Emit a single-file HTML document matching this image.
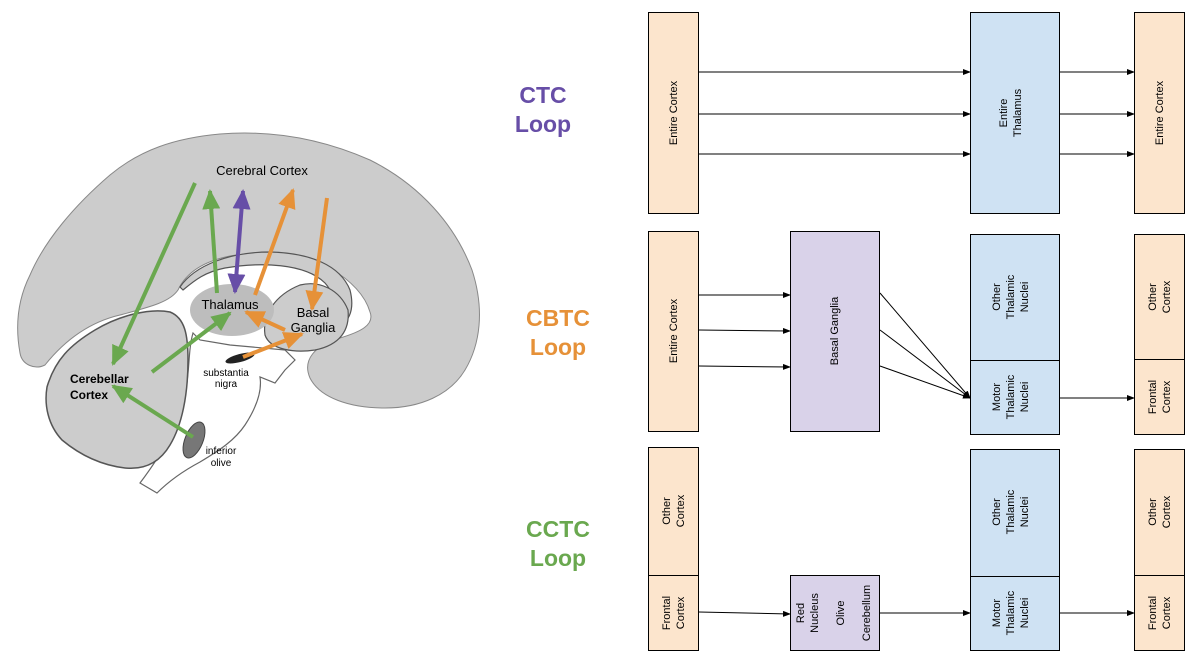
<!DOCTYPE html>
<html><head><meta charset="utf-8"><style>
html,body{margin:0;padding:0;background:#fff;}
svg{display:block;font-family:"Liberation Sans",Arial,sans-serif;}
</style></head><body>
<svg width="1199" height="662" viewBox="0 0 1199 662" xmlns="http://www.w3.org/2000/svg">
<defs>
<marker id="g" markerWidth="20" markerHeight="18" refX="18" refY="9" orient="auto" markerUnits="userSpaceOnUse"><path d="M0,0 L20,9 L0,18 Z" fill="#6aa84f"/></marker>
<marker id="o" markerWidth="20" markerHeight="18" refX="18" refY="9" orient="auto" markerUnits="userSpaceOnUse"><path d="M0,0 L20,9 L0,18 Z" fill="#e69138"/></marker>
<marker id="p" markerWidth="20" markerHeight="18" refX="18" refY="9" orient="auto" markerUnits="userSpaceOnUse"><path d="M0,0 L20,9 L0,18 Z" fill="#674ea7"/></marker>
<marker id="ps" markerWidth="20" markerHeight="18" refX="2" refY="9" orient="auto" markerUnits="userSpaceOnUse"><path d="M20,0 L0,9 L20,18 Z" fill="#674ea7"/></marker>
<marker id="k" markerWidth="8" markerHeight="6" refX="7" refY="3" orient="auto" markerUnits="userSpaceOnUse"><path d="M0,0 L8,3 L0,6 Z" fill="#000"/></marker>
</defs>

<path d="M20,353 C14,320 20,295 30,275 C45,240 75,205 110,175 C140,150 175,138 220,134 C270,130 320,138 370,160 C420,185 455,225 472,270 C485,310 480,345 465,370 C450,395 420,408 385,408 C350,408 320,398 310,378 C302,360 315,345 340,338 C360,332 375,325 370,312 C365,295 350,280 330,268 C305,255 265,250 230,256 C200,262 185,275 178,290 C170,302 150,307 120,315 C90,322 65,340 45,365 C35,370 22,365 20,353 Z" fill="#cccccc" stroke="#888" stroke-width="1"/>
<path d="M140,483 L157,493 C170,480 185,470 200,462 C220,450 235,440 245,425 C258,405 262,390 260,377 L275,383 L285,370 L295,360 L285,350 L230,345 L200,340 L193,333 C188,350 190,370 185,395 C180,420 165,450 140,483 Z" fill="#fff" stroke="#666" stroke-width="1.2"/>
<path d="M47,387 C55,360 70,345 95,330 C120,315 150,308 170,312 C185,318 188,335 188,360 C188,395 182,425 170,445 C160,462 145,470 125,468 C100,465 80,455 62,440 C48,425 44,405 47,387 Z" fill="#cccccc" stroke="#555" stroke-width="1.5"/>
<path d="M180,287 C195,265 230,252 270,252 C310,253 340,265 350,290 C355,310 350,325 330,330 L320,332 C335,320 340,300 325,283 C305,263 260,262 225,268 C205,272 195,280 183,290 Z" fill="#cccccc" stroke="#555" stroke-width="1.2"/>
<path d="M265,335 C262,315 275,295 300,285 C320,280 340,290 348,310 C350,330 340,345 315,350 C295,353 270,350 265,335 Z" fill="#cccccc" stroke="#555" stroke-width="1.2"/>
<ellipse cx="232" cy="310" rx="42" ry="26" fill="#bdbdbd"/>
<ellipse cx="240" cy="358" rx="15" ry="4" transform="rotate(-15 240 358)" fill="#222"/>
<ellipse cx="194" cy="440" rx="9" ry="19" transform="rotate(22 194 440)" fill="#777" stroke="#444"/>

<text x="262" y="175" font-size="13" text-anchor="middle">Cerebral Cortex</text>
<text x="230" y="309" font-size="13" text-anchor="middle">Thalamus</text>
<text x="313" y="317" font-size="13" text-anchor="middle">Basal</text>
<text x="313" y="332" font-size="13" text-anchor="middle">Ganglia</text>
<text x="70" y="383" font-size="12" font-weight="bold">Cerebellar</text>
<text x="70" y="399" font-size="12" font-weight="bold">Cortex</text>
<text x="226" y="376" font-size="10" text-anchor="middle">substantia</text>
<text x="226" y="387" font-size="10" text-anchor="middle">nigra</text>
<text x="221" y="454" font-size="10" text-anchor="middle">inferior</text>
<text x="221" y="466" font-size="10" text-anchor="middle">olive</text>

<g stroke-width="4" fill="none">
<line x1="195" y1="183" x2="113" y2="364" stroke="#6aa84f" marker-end="url(#g)"/>
<line x1="217" y1="293" x2="210" y2="191" stroke="#6aa84f" marker-end="url(#g)"/>
<line x1="235" y1="292" x2="243" y2="191" stroke="#674ea7" marker-end="url(#p)" marker-start="url(#ps)"/>
<line x1="255" y1="295" x2="293" y2="190" stroke="#e69138" marker-end="url(#o)"/>
<line x1="327" y1="198" x2="312" y2="309" stroke="#e69138" marker-end="url(#o)"/>
<line x1="285" y1="330" x2="246" y2="312" stroke="#e69138" marker-end="url(#o)"/>
<line x1="243" y1="357" x2="302" y2="334" stroke="#e69138" marker-end="url(#o)"/>
<line x1="152" y1="372" x2="230" y2="313" stroke="#6aa84f" marker-end="url(#g)"/>
<line x1="193" y1="437" x2="113" y2="386" stroke="#6aa84f" marker-end="url(#g)"/>
</g>

<g font-size="23" font-weight="bold" text-anchor="middle">
<text x="543" y="103" fill="#674ea7">CTC</text><text x="543" y="132" fill="#674ea7">Loop</text>
<text x="558" y="326" fill="#e69138">CBTC</text><text x="558" y="355" fill="#e69138">Loop</text>
<text x="558" y="537" fill="#6aa84f">CCTC</text><text x="558" y="566" fill="#6aa84f">Loop</text>
</g>

<g stroke="#000" stroke-width="1">
<rect x="648.5" y="12.5" width="50" height="201" fill="#fce5cd"/>
<rect x="970.5" y="12.5" width="89" height="201" fill="#cfe2f3"/>
<rect x="1134.5" y="12.5" width="50" height="201" fill="#fce5cd"/>
<rect x="648.5" y="231.5" width="50" height="200" fill="#fce5cd"/>
<rect x="790.5" y="231.5" width="89" height="200" fill="#d9d2e9"/>
<rect x="970.5" y="234.5" width="89" height="126" fill="#cfe2f3"/>
<rect x="970.5" y="360.5" width="89" height="74" fill="#cfe2f3"/>
<rect x="1134.5" y="234.5" width="50" height="125" fill="#fce5cd"/>
<rect x="1134.5" y="359.5" width="50" height="75" fill="#fce5cd"/>
<rect x="648.5" y="447.5" width="50" height="128" fill="#fce5cd"/>
<rect x="648.5" y="575.5" width="50" height="75" fill="#fce5cd"/>
<rect x="790.5" y="575.5" width="89" height="75" fill="#d9d2e9"/>
<rect x="970.5" y="449.5" width="89" height="127" fill="#cfe2f3"/>
<rect x="970.5" y="576.5" width="89" height="74" fill="#cfe2f3"/>
<rect x="1134.5" y="449.5" width="50" height="126" fill="#fce5cd"/>
<rect x="1134.5" y="575.5" width="50" height="75" fill="#fce5cd"/>
</g>

<g stroke="#000" stroke-width="1" marker-end="url(#k)">
<line x1="699" y1="72" x2="970" y2="72"/><line x1="699" y1="114" x2="970" y2="114"/><line x1="699" y1="154" x2="970" y2="154"/>
<line x1="1060" y1="72" x2="1134" y2="72"/><line x1="1060" y1="114" x2="1134" y2="114"/><line x1="1060" y1="154" x2="1134" y2="154"/>
<line x1="699" y1="295" x2="790" y2="295"/><line x1="699" y1="330" x2="790" y2="331"/><line x1="699" y1="366" x2="790" y2="367"/>
<line x1="880" y1="293" x2="970" y2="398"/><line x1="880" y1="330" x2="970" y2="398"/><line x1="880" y1="366" x2="970" y2="398"/>
<line x1="1060" y1="398" x2="1134" y2="398"/>
<line x1="699" y1="612" x2="790" y2="614"/>
<line x1="880" y1="613" x2="970" y2="613"/>
<line x1="1060" y1="613" x2="1134" y2="613"/>
</g>

<g font-size="11" text-anchor="middle" fill="#000">
<text transform="translate(677,113) rotate(-90)">Entire Cortex</text>
<text transform="translate(1007,113) rotate(-90)">Entire</text><text transform="translate(1021,113) rotate(-90)">Thalamus</text>
<text transform="translate(1163,113) rotate(-90)">Entire Cortex</text>
<text transform="translate(677,331) rotate(-90)">Entire Cortex</text>
<text transform="translate(838,331) rotate(-90)">Basal Ganglia</text>
<text transform="translate(1000,297) rotate(-90)">Other</text><text transform="translate(1014,297) rotate(-90)">Thalamic</text><text transform="translate(1028,297) rotate(-90)">Nuclei</text>
<text transform="translate(1000,397) rotate(-90)">Motor</text><text transform="translate(1014,397) rotate(-90)">Thalamic</text><text transform="translate(1028,397) rotate(-90)">Nuclei</text>
<text transform="translate(1156,297) rotate(-90)">Other</text><text transform="translate(1170,297) rotate(-90)">Cortex</text>
<text transform="translate(1156,397) rotate(-90)">Frontal</text><text transform="translate(1170,397) rotate(-90)">Cortex</text>
<text transform="translate(670,511) rotate(-90)">Other</text><text transform="translate(684,511) rotate(-90)">Cortex</text>
<text transform="translate(670,613) rotate(-90)">Frontal</text><text transform="translate(684,613) rotate(-90)">Cortex</text>
<text transform="translate(804,613) rotate(-90)">Red</text><text transform="translate(818,613) rotate(-90)">Nucleus</text>
<text transform="translate(844,613) rotate(-90)">Olive</text>
<text transform="translate(870,613) rotate(-90)">Cerebellum</text>
<text transform="translate(1000,512) rotate(-90)">Other</text><text transform="translate(1014,512) rotate(-90)">Thalamic</text><text transform="translate(1028,512) rotate(-90)">Nuclei</text>
<text transform="translate(1000,613) rotate(-90)">Motor</text><text transform="translate(1014,613) rotate(-90)">Thalamic</text><text transform="translate(1028,613) rotate(-90)">Nuclei</text>
<text transform="translate(1156,512) rotate(-90)">Other</text><text transform="translate(1170,512) rotate(-90)">Cortex</text>
<text transform="translate(1156,613) rotate(-90)">Frontal</text><text transform="translate(1170,613) rotate(-90)">Cortex</text>
</g>
</svg>
</body></html>
